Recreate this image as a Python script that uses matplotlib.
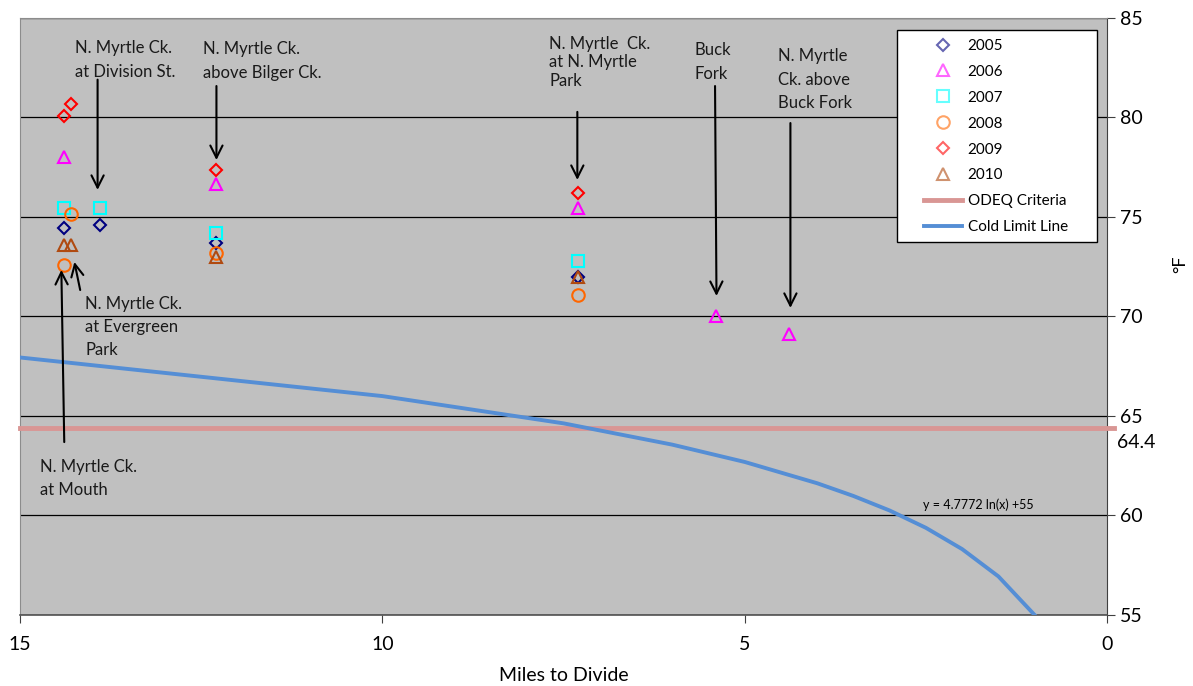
import matplotlib
matplotlib.use("Agg")
import matplotlib.pyplot as plt
from matplotlib.patches import Rectangle

plt.rcParams['font.family'] = ['Lato', 'DejaVu Sans']

# sample temperatures (°F) by miles to divide
x_2005 = [14.4, 13.89, 12.3, 7.3]
y_2005 = [74.45, 74.6, 73.7, 72.0]
x_2006 = [14.4, 12.3, 7.3, 5.39, 4.39]
y_2006 = [78.0, 76.66, 75.45, 70.0, 69.1]
x_2007 = [14.4, 13.89, 12.3, 7.3]
y_2007 = [75.45, 75.45, 74.2, 72.8]
x_2008 = [14.4, 14.29, 12.3, 7.3]
y_2008 = [72.6, 75.15, 73.2, 71.1]
x_2009 = [14.4, 14.29, 12.3, 7.3]
y_2009 = [80.05, 80.7, 77.36, 76.2]
x_2010 = [14.4, 14.29, 12.3, 7.3]
y_2010 = [73.6, 73.6, 73.0, 72.0]

odeq = 64.4
cold_x = [15, 10, 7.5, 6, 5, 4, 3.5, 3, 2.5, 2, 1.5, 1]
cold_y = [67.94, 66.0, 64.63, 63.56, 62.69, 61.62, 60.98, 60.25, 59.38, 58.31, 56.94, 55.0]

fig = plt.figure(figsize=(11.93, 6.86), dpi=100)
ax = fig.add_axes([0.0168, 0.1035, 0.9112, 0.8703])
ax.set_facecolor('#C0C0C0')

series = [
    (x_2005, y_2005, '2005', 'D', '#000080', 6),
    (x_2006, y_2006, '2006', '^', '#FF00FF', 9),
    (x_2007, y_2007, '2007', 's', '#00FFFF', 9),
    (x_2008, y_2008, '2008', 'o', '#FF6600', 9),
    (x_2009, y_2009, '2009', 'D', '#FF0000', 6),
    (x_2010, y_2010, '2010', '^', '#B04A10', 8),
]
for xs, ys, lab, mk, col, ms in series:
    ax.plot(xs, ys, linestyle='none', marker=mk, ms=ms, mfc='none',
            mec=col, mew=1.5, label=lab, zorder=5)

ax.axhline(odeq, xmin=0, xmax=1.006, color='#D99694', lw=3.5,
           label='ODEQ Criteria', clip_on=False, zorder=3)
ax.plot(cold_x, cold_y, color='#558ED5', lw=2.8, label='Cold Limit Line', zorder=4)

ax.set_xlim(15, 0)
ax.set_ylim(55, 85)
ax.set_xticks([15, 10, 5, 0])
ax.set_yticks([55, 60, 65, 70, 75, 80, 85])
ax.yaxis.tick_right()
ax.yaxis.set_label_position('right')
ax.tick_params(axis='both', labelsize=14, direction='out', length=6, color='#404040')
ax.tick_params(axis='x', pad=9)
ax.grid(axis='y', color='black', lw=0.9)
ax.set_axisbelow(True)

for side in ['left', 'top']:
    ax.spines[side].set_color('#8C8C8C')
ax.spines['right'].set_color('#404040')
ax.spines['bottom'].set_color('#505050')
ax.spines['bottom'].set_linewidth(1.2)

ax.set_xlabel('Miles to Divide', fontsize=14, labelpad=10)
ax.set_ylabel('°F', fontsize=13, rotation=90)
ax.yaxis.set_label_coords(1.06, 0.587)

ax.text(-0.14, 63.65, '64.4', fontsize=14, ha='left', va='center', clip_on=False)
ax.text(2.54, 60.53, 'y = 4.7772 ln(x) +55', fontsize=9, ha='left', va='center')

labels = [
    ('N. Myrtle Ck.\nat Division St.', 14.24, 83.9, 1.6),
    ('N. Myrtle Ck.\nabove Bilger Ck.', 12.47, 83.85, 1.6),
    ('N. Myrtle  Ck.\nat N. Myrtle\nPark', 7.70, 84.1, 1.2),
    ('Buck\nFork', 5.70, 83.8, 1.6),
    ('N. Myrtle\nCk. above\nBuck Fork', 4.54, 83.5, 1.6),
    ('N. Myrtle Ck.\nat Evergreen\nPark', 14.10, 71.05, 1.55),
    ('N. Myrtle Ck.\nat Mouth', 14.72, 62.85, 1.55),
]
for txt, tx, ty, ls in labels:
    ax.text(tx, ty, txt, fontsize=12, ha='left', va='top', linespacing=ls, color='#1A1A1A')

arrows = [
    ((13.93, 76.36), (13.93, 81.9)),
    ((12.29, 77.86), (12.29, 81.58)),
    ((7.31, 76.86), (7.31, 80.28)),
    ((5.39, 71.03), (5.41, 81.58)),
    ((4.37, 70.43), (4.37, 79.72)),
    ((14.25, 72.74), (14.17, 71.33)),
    ((14.43, 72.34), (14.39, 63.69)),
]
for head, tail in arrows:
    ax.annotate('', xy=head, xytext=tail,
                arrowprops=dict(arrowstyle='->', color='black', lw=1.5,
                                mutation_scale=22, shrinkA=0, shrinkB=0),
                zorder=6)

# legend box drawn separately to match the wide side padding
box = Rectangle((0.807, 0.625), 0.184, 0.355, transform=ax.transAxes,
                facecolor='white', edgecolor='black', lw=1.0, zorder=7)
ax.add_patch(box)
leg = ax.legend(loc='upper left', bbox_to_anchor=(0.8316, 0.965), fontsize=11,
                frameon=False, labelspacing=0.78, handlelength=2.5,
                handletextpad=0.35, borderpad=0, borderaxespad=0)
leg.set_zorder(8)
for h in leg.legend_handles[:6]:
    h.set_alpha(0.6)

fig.savefig('out.png', dpi=100)
